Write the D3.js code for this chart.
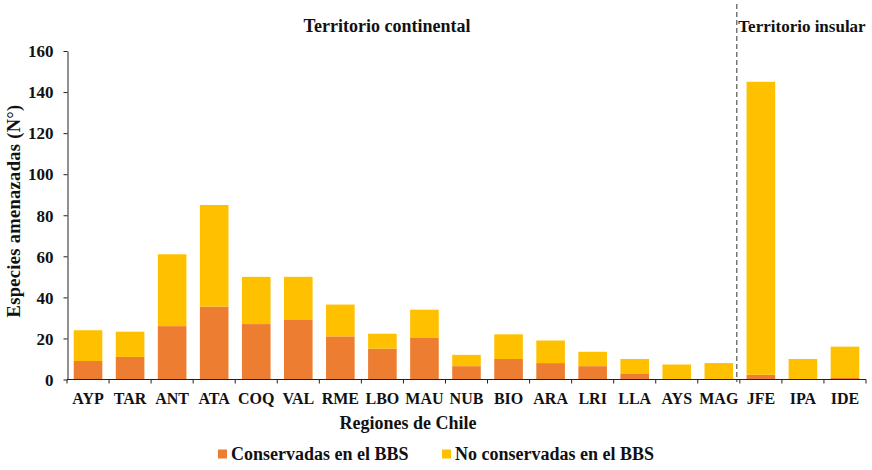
<!DOCTYPE html>
<html>
<head>
<meta charset="utf-8">
<script src="https://cdn.jsdelivr.net/npm/d3@7"></script>
<style>
  body { margin: 0; background: #fff; }
</style>
</head>
<body>
<svg id="chart"></svg>
<script>
// data
var regions = ["AYP","TAR","ANT","ATA","COQ","VAL","RME","LBO","MAU","NUB","BIO","ARA","LRI","LLA","AYS","MAG","JFE","IPA","IDE"];
var conservadas = [9, 11, 26, 35.5, 27, 29, 21, 15, 20.5, 6.5, 10, 8, 6.5, 3, 0, 0, 2.3, 0, 1];
var totales = [24, 23.3, 61, 85, 50, 50, 36.5, 22.3, 34, 12, 22, 19, 13.5, 10, 7.3, 8, 145, 10, 16];
var noConservadas = totales.map(function(t, i) { return t - conservadas[i]; });
var yTicks = [0, 20, 40, 60, 80, 100, 120, 140, 160];
var seriesNames = ["Conservadas en el BBS", "No conservadas en el BBS"];
var colors = ["#ED7D31", "#FFC000"];

var FONT = "'Liberation Serif'";

var width = 872, height = 470;
var svg = d3.select("#chart").attr("width", width).attr("height", height);

var x = d3.scaleBand().domain(regions).range([67, 866]).paddingInner(0.32).paddingOuter(0.16);
var y = d3.scaleLinear().domain([0, 160]).range([379.5, 51]);

var rows = regions.map(function(r, i) {
  return { region: r, cons: conservadas[i], nocons: noConservadas[i] };
});
var stack = d3.stack().keys(["cons", "nocons"])(rows);

svg.append("g")
  .selectAll("g")
  .data(stack)
  .enter().append("g")
    .attr("fill", function(d, i) { return colors[i]; })
  .selectAll("rect")
  .data(function(d) { return d; })
  .enter().append("rect")
    .attr("x", function(d) { return x(d.data.region); })
    .attr("width", x.bandwidth())
    .attr("y", function(d) { return y(d[1]); })
    .attr("height", function(d) { return y(d[0]) - y(d[1]); });

// y axis
var yAxis = svg.append("g")
  .attr("transform", "translate(67.5,0)")
  .call(d3.axisLeft(y).tickValues(yTicks).tickSize(4).tickSizeOuter(0).tickPadding(10));
yAxis.select(".domain").attr("stroke", "#222");
yAxis.selectAll(".tick line").attr("stroke", "#222");
yAxis.selectAll("text")
  .attr("fill", "#111")
  .attr("dy", "0.34em")
  .style("font-size", "17px");

// x axis with ticks at band boundaries
var xAxisG = svg.append("g").attr("transform", "translate(0,379.5)");
xAxisG.append("line")
  .attr("x1", 67).attr("x2", 866)
  .attr("stroke", "#222");
var bounds = d3.range(regions.length + 1).map(function(i) { return 67 + i * (799 / regions.length); });
xAxisG.selectAll("line.tk")
  .data(bounds)
  .enter().append("line")
    .attr("class", "tk")
    .attr("x1", function(d) { return d; })
    .attr("x2", function(d) { return d; })
    .attr("y1", 0).attr("y2", 4)
    .attr("stroke", "#222");
xAxisG.selectAll("text")
  .data(regions)
  .enter().append("text")
    .attr("x", function(d) { return x(d) + x.bandwidth() / 2; })
    .attr("y", 24)
    .attr("text-anchor", "middle")
    .attr("fill", "#111")
    .style("font-size", "16px")
    .text(function(d) { return d; });

// separator
var sepX = (x("MAG") + x.bandwidth() + x("JFE")) / 2 - 3;
svg.append("line")
  .attr("x1", sepX).attr("x2", sepX)
  .attr("y1", 4).attr("y2", 382)
  .attr("stroke", "#333")
  .attr("stroke-width", 1)
  .attr("stroke-dasharray", "5,3");

svg.append("text")
  .attr("x", 387).attr("y", 32)
  .attr("text-anchor", "middle")
  .attr("fill", "#111")
  .style("font-size", "18px")
  .text("Territorio continental");
svg.append("text")
  .attr("x", sepX + 1.5).attr("y", 32)
  .attr("fill", "#111")
  .style("font-size", "17px")
  .text("Territorio insular");

// axis titles
svg.append("text")
  .attr("transform", "translate(20,211) rotate(-90)")
  .attr("text-anchor", "middle")
  .attr("fill", "#111")
  .style("font-size", "18.5px")
  .style("letter-spacing", "0.3px")
  .text("Especies amenazadas (N°)");
svg.append("text")
  .attr("x", 408).attr("y", 429)
  .attr("text-anchor", "middle")
  .attr("fill", "#111")
  .style("font-size", "18px")
  .text("Regiones de Chile");

// legend
var legendX = [218, 442];
var legend = svg.append("g")
  .selectAll("g")
  .data(seriesNames)
  .enter().append("g")
    .attr("transform", function(d, i) { return "translate(" + legendX[i] + ",454)"; });
legend.append("rect")
  .attr("width", 9).attr("height", 9)
  .attr("y", -4.5)
  .attr("fill", function(d, i) { return colors[i]; });
legend.append("text")
  .attr("x", 13).attr("y", 6)
  .attr("fill", "#111")
  .style("font-size", "18px")
  .text(function(d) { return d; });

// fonts on every text
svg.selectAll("text")
  .style("font-family", FONT)
  .style("font-weight", "bold");
</script>
</body>
</html>
